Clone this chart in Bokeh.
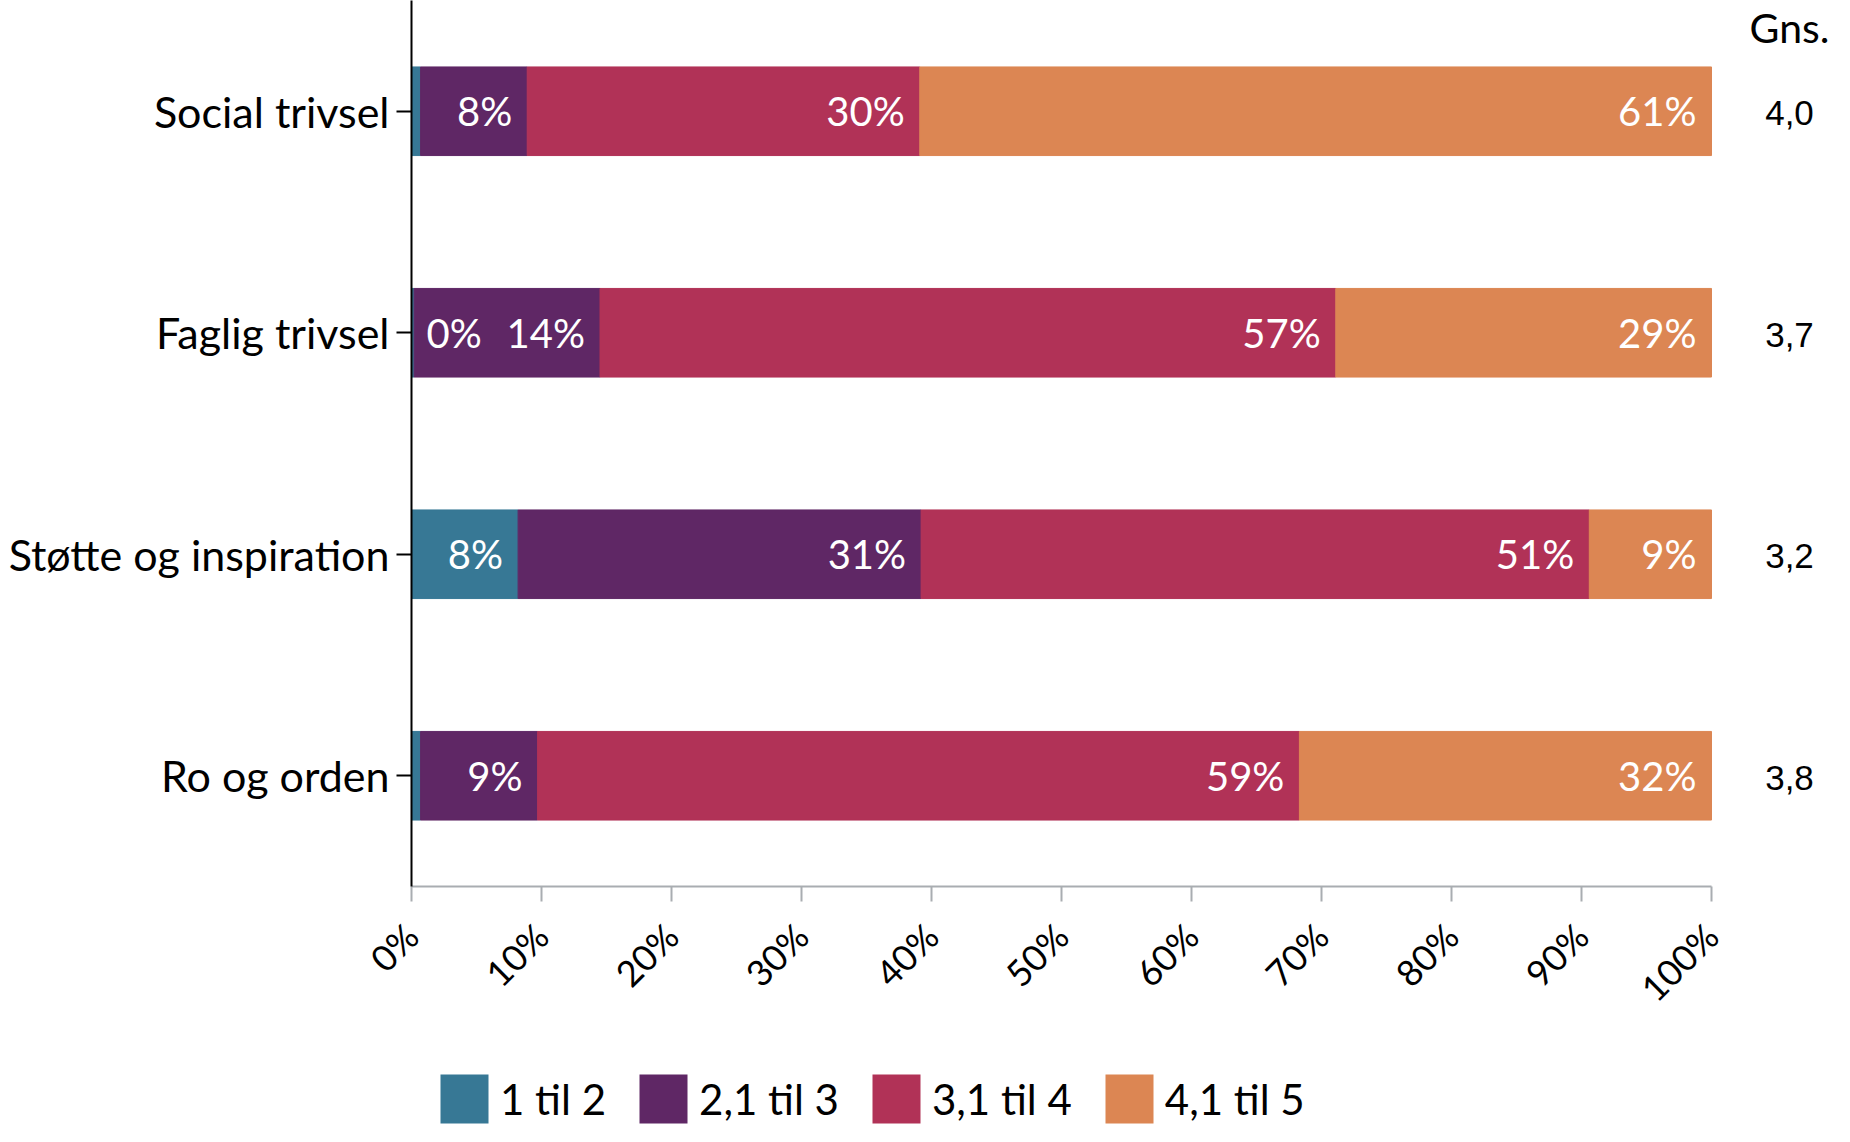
from math import pi
from bokeh.plotting import figure
from bokeh.layouts import column
from bokeh.models import (ColumnDataSource, FactorRange, Range1d, FixedTicker,
                          PrintfTickFormatter, Legend, LegendItem)
from bokeh.transform import dodge
from bokeh.core.properties import value
from bokeh.embed import file_html
from bokeh.resources import INLINE

# ---------------- data ----------------
categories = ["Social trivsel", "Faglig trivsel", "Støtte og inspiration", "Ro og orden"]
series_names = ["1 til 2", "2,1 til 3", "3,1 til 4", "4,1 til 5"]
v_1til2 = [0.7, 0.2, 8.2, 0.7]
v_21til3 = [8.2, 14.3, 31.0, 9.0]
v_31til4 = [30.2, 56.6, 51.4, 58.6]
v_41til5 = [60.9, 28.9, 9.4, 31.7]
lbl_1til2 = ["", "0%", "8%", ""]
lbl_21til3 = ["8%", "14%", "31%", "9%"]
lbl_31til4 = ["30%", "57%", "51%", "59%"]
lbl_41til5 = ["61%", "29%", "9%", "32%"]
gns = ["4,0", "3,7", "3,2", "3,8"]
gns_header = "Gns."
x_ticks = [0, 10, 20, 30, 40, 50, 60, 70, 80, 90, 100]
colors = ["#377895", "#5f2765", "#b13257", "#dc8653"]

series_vals = [v_1til2, v_21til3, v_31til4, v_41til5]
series_lbls = [lbl_1til2, lbl_21til3, lbl_31til4, lbl_41til5]
keys = ["s1", "s2", "s3", "s4"]

FONT = "Lato"

p = figure(y_range=FactorRange(factors=categories[::-1], range_padding=0),
           x_range=Range1d(0, 110),
           width=1841, height=1056,
           output_backend="svg", toolbar_location=None,
           min_border_left=411, min_border_right=0,
           min_border_top=0, min_border_bottom=170)

data = {"cat": categories}
for k, v in zip(keys, series_vals):
    data[k] = v
src = ColumnDataSource(data)
renderers = p.hbar_stack(keys, y="cat", height=0.4, color=colors, source=src)

# segment labels
r_x, r_y, r_t = [], [], []
l_x, l_y, l_t = [], [], []
for i, cat in enumerate(categories):
    start = 0.0
    for vals, lbls in zip(series_vals, series_lbls):
        v = vals[i]
        t = lbls[i]
        if t:
            if v < 2:
                l_x.append(start); l_y.append(cat); l_t.append(t)
            else:
                r_x.append(start + v); r_y.append(cat); r_t.append(t)
        start += v

p.text(x="x", y="y", text="t",
       source=ColumnDataSource(dict(x=r_x, y=r_y, t=r_t)),
       text_align="right", text_baseline="middle", x_offset=-15,
       text_color="white", text_font=value(FONT), text_font_size="40px")
p.text(x="x", y="y", text="t",
       source=ColumnDataSource(dict(x=l_x, y=l_y, t=l_t)),
       text_align="left", text_baseline="middle", x_offset=15,
       text_color="white", text_font=value(FONT), text_font_size="40px")

# Gns. column
gns_x = 106.0
p.text(x=[gns_x] * len(categories), y=categories, text=gns,
       text_align="center", text_baseline="middle", y_offset=2,
       text_color="black", text_font=value("Liberation Sans"), text_font_size="35px")
hdr_src = ColumnDataSource(dict(x=[gns_x], cat=[categories[0]], t=[gns_header]))
p.text(x="x", y=dodge("cat", 0.378, range=p.y_range), text="t", source=hdr_src,
       text_align="center", text_baseline="middle",
       text_color="black", text_font=value(FONT), text_font_size="41px")

# axes
xa = p.xaxis[0]
xa.bounds = (0, 100)
xa.ticker = FixedTicker(ticks=x_ticks)
xa.formatter = PrintfTickFormatter(format="%d%%")
xa.major_label_orientation = pi / 4
xa.axis_line_color = "#a9adb1"
xa.axis_line_width = 2
xa.major_tick_line_color = "#a9adb1"
xa.major_tick_line_width = 2
xa.major_tick_out = 15
xa.major_tick_in = 0
xa.minor_tick_line_color = None
xa.major_label_text_font = FONT
xa.major_label_text_font_size = "36px"
xa.major_label_text_color = "black"
xa.major_label_standoff = 28

ya = p.yaxis[0]
ya.axis_line_color = "black"
ya.axis_line_width = 2
ya.major_tick_line_color = "black"
ya.major_tick_line_width = 2
ya.major_tick_out = 15
ya.major_tick_in = 0
ya.major_label_text_font = FONT
ya.major_label_text_font_size = "43px"
ya.major_label_text_color = "black"
ya.major_label_standoff = 7

p.xgrid.grid_line_color = None
p.ygrid.grid_line_color = None
p.outline_line_color = None

# ---------------- legend strip (same series, zero-height proxies) ----------------
pl = figure(width=1841, height=84,
            x_range=Range1d(1000, 1001),
            y_range=FactorRange(factors=categories[::-1]),
            output_backend="svg", toolbar_location=None,
            x_axis_location=None, y_axis_location=None,
            min_border_left=0, min_border_right=0,
            min_border_top=0, min_border_bottom=0)
pl.xgrid.grid_line_color = None
pl.ygrid.grid_line_color = None
pl.outline_line_color = None
leg_renderers = pl.hbar_stack(keys, y="cat", height=0, fill_color=colors,
                              line_color=None, source=ColumnDataSource(data))

items = [LegendItem(label=n, renderers=[r]) for n, r in zip(series_names, leg_renderers)]
legend = Legend(items=items, location=(23, 11), orientation="horizontal",
                glyph_width=60, glyph_height=61, label_standoff=6, spacing=27,
                padding=0, margin=0, border_line_color=None,
                background_fill_alpha=0, label_height=61,
                label_text_font=FONT, label_text_font_size="42px",
                label_text_color="black")
pl.add_layout(legend)

layout = column(p, pl, spacing=0)
open("out.html", "w").write(file_html(layout, INLINE))
